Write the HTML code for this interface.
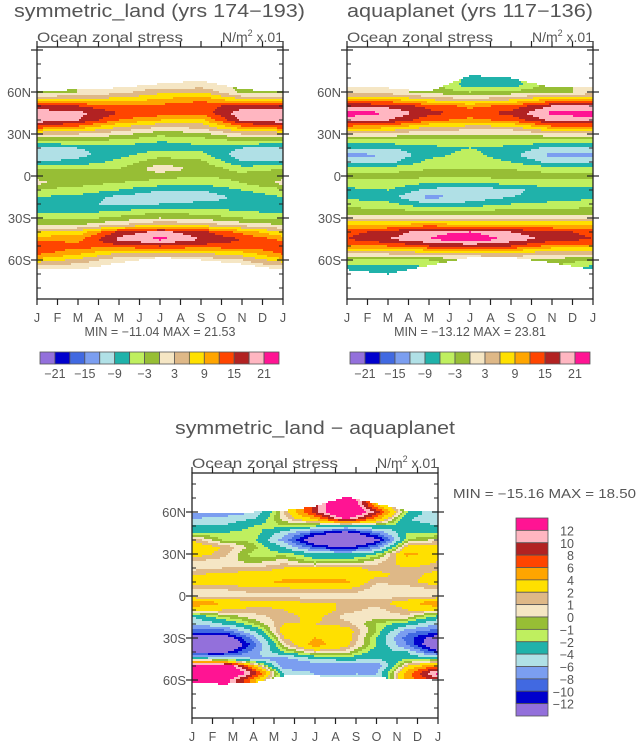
<!DOCTYPE html>
<html><head><meta charset="utf-8"><style>
html,body{margin:0;padding:0;background:#fff;}
svg{display:block;font-family:"Liberation Sans",sans-serif;}
text{fill:#555;}
</style></head><body>
<svg id="svg" width="636" height="743" viewBox="0 0 636 743" xmlns="http://www.w3.org/2000/svg">
<text x="14" y="17" font-size="18" textLength="291" lengthAdjust="spacingAndGlyphs">symmetric_land (yrs 174−193)</text>
<text x="347" y="17" font-size="18" textLength="246" lengthAdjust="spacingAndGlyphs">aquaplanet (yrs 117−136)</text>
<text x="175" y="434" font-size="18" textLength="280" lengthAdjust="spacingAndGlyphs">symmetric_land − aquaplanet</text>
<text x="453" y="498" font-size="12.5" textLength="183" lengthAdjust="spacingAndGlyphs">MIN = −15.16 MAX =  18.50</text>
<g id="layer"></g>
</svg>
<script>
// ---- data (values in N/m^2 x .01) ----
const lats = [70,65,60,55,50,45,40,35,30,25,20,15,10,5,0,-5,-10,-15,-20,-25,-30,-35,-40,-45,-50,-55,-60,-65,-70];
const monthLabels = ["J","F","M","A","M","J","J","A","S","O","N","D","J"];
const latTickLabels = ["60N","30N","0","30S","60S"];
const latTickValues = [60,30,0,-30,-60];
const topLevels = [-21,-18,-15,-12,-9,-6,-3,0,3,6,9,12,15,18,21];
const topLevelLabels = ["−21","−15","−9","−3","3","9","15","21"];
const diffLevels = [-12,-10,-8,-6,-4,-2,-1,0,1,2,4,6,8,10,12];
const diffLevelLabels = ["−12","−10","−8","−6","−4","−2","−1","0","1","2","4","6","8","10","12"];
const palette = ["#9370db","#0000cd","#4169e1","#7b9ef0","#b0e0e6","#20b2aa","#bfef5f","#97be35","#f5e6c4","#deb887","#ffe000","#ffa500","#ff4500","#b22222","#ffb6c1","#ff1493"];

const symMonths = [0,2,4,6,8,10,12];
const symTop = [60,62,63,66,68,62,60];
const symBot = [-67,-67,-62,-58,-60,-63,-67];
const symJan = [0,0,-2,6,16,20,20,14,3,-4,-10,-11,-9,-3,-1,1,-4,-6,-8,-7,-4,0,6,11,14,13,8,2,0];
const symMar = [0,0,0,6,15,19,18,11,3,-3,-9,-10,-8,-3,-2,-2,-4,-7,-8,-7,-4,0,7,11,13,10,5,1,0];
const symMay = [2,2,2,7,12,15,12,6,1,-4,-8,-7,-5,-3,-2,-3,-6,-10,-10,-6,-2,3,16,19,14,6,1,0,0];
const symJul = [0,0,5,9,13,14,9,3,-2,-6,-7,-4,-1,2,-2,-4,-9,-11,-9,-4,0,6,19,22,15,6,0,0,0];
const symSep = [1,1,6,11,14,13,8,4,-1,-5,-7,-5,-2,-1,-3,-5,-9,-11,-8,-5,-1,5,16,18,14,6,1,0,0];
const symNov = [-1,-1,-1,6,16,20,19,11,3,-3,-9,-11,-9,-4,-2,-3,-6,-8,-8,-6,-3,2,11,15,14,8,3,0,0];

const aquaMonths = [0,2,4,6,8,10,12];
const aquaTop = [64,63,60,72,70,63,64];
const aquaBot = [-67,-70,-64,-58,-58,-62,-67];
const aquaJan = [1,1,1,9,18,23,19,11,2,-4,-9,-13,-10,-4,-2,-4,-7,-7,-4,-2,2,9,14,15,11,4,-3,-7,-7];
const aquaMar = [1,1,1,9,17,21,18,10,2,-4,-9,-12,-10,-4,-2,-4,-6,-8,-5,-2,2,9,16,18,12,4,-3,-8,-8];
const aquaMay = [-1,-1,-1,5,14,16,13,6,0,-4,-7,-7,-5,-3,-2,-6,-10,-13,-9,-3,2,11,20,21,15,5,-3,-6,-6];
const aquaJul = [-7,-8,-3,3,11,14,11,5,0,-4,-6,-5,-4,-3,-2,-6,-11,-11,-8,-3,2,9,21,24,16,5,0,0,0];
const aquaSep = [-7,-8,-2,5,13,16,13,5,0,-4,-7,-8,-6,-3,-2,-5,-10,-9,-6,-2,2,9,18,20,15,6,0,0,0];
const aquaNov = [-1,-1,-1,9,18,22,19,11,2,-4,-10,-13,-10,-4,-2,-4,-7,-8,-5,-2,2,9,16,17,11,4,-1,-3,-3];

const diffMonths = [0,1.5,3,4.5,6,7.5,9,10.5,12];
const diffTop = [60,60,60,61,64,71,66,61,60];
const diffBot = [-62,-63,-62,-57,-57,-58,-58,-60,-60];
const diffM0 = [-8,-8,-8,-6,-4,-2,2,3,3,1,0.5,2,3,1,0.5,6,2,-4,-6,-9,-15,-18,-13,-2,16,18,14,14,14];
const diffM1 = [-8,-8,-8,-5,-4,-2,-1,2,1.5,0.5,1,2.5,3,1,0.5,4,2,-1,-4,-9,-15,-18,-13,-3,16,18,14,14,14];
const diffM2 = [-6,-6,-6,-4,-2,-1,-1.5,-0.5,-1.5,-0.5,1,3,3,1.5,0.5,2.5,1.5,0.5,-1,-4,-7,-9,-7,-6,4,10,5,5,5];
const diffM3 = [1,1,1,0.5,-1,-5,-7,-4,-1.5,0.5,2,3,4.5,1.5,0.5,2.5,2,1.5,2,3,2,0.5,-2,-7,-8,-4,-4,-4,-4];
const diffM4 = [9,9,9,4,-2,-10,-15,-10,-3,-1.5,2,3,4.5,2,0.5,2,3,2.5,2,3,4,5,1,-4,-8,-6,-6,-6,-6];
const diffM5 = [16,18,18,12,-3,-14,-18,-13,-4,-1.5,2.5,3,4.5,2,0.5,2,1.5,0.5,1.5,3,3,2.5,0.5,-3,-8,-6,-6,-6,-6];
const diffM6 = [3,4,9,5,-2,-8,-13,-8,-2,0.5,1.5,2.5,1,0.5,0.5,1.5,0.5,0.5,-1,-1,-2,-2,-3,-4,-8,-6,-6,-6,-6];
const diffM7 = [-2,-2,-2,-4,-3,-2,-1,2.5,4.5,3,2,1.5,1.5,0.5,0.5,3,2,0.5,-3,-7,-9,-8,-4,-2,2,5,5,5,5];
const diffM8 = [-6,-6,-6,-5,-4,-2,0.5,3,3,2,1.5,2.5,3,1,0.5,6,2,-3,-6,-9,-14,-16,-11,-2,6,13,9,9,9];

const symGrid = [symJan,symMar,symMay,symJul,symSep,symNov,symJan];
const aquaGrid = [aquaJan,aquaMar,aquaMay,aquaJul,aquaSep,aquaNov,aquaJan];
const diffGrid = [diffM0,diffM1,diffM2,diffM3,diffM4,diffM5,diffM6,diffM7,diffM8];

const NS="http://www.w3.org/2000/svg";
const layer=document.getElementById('layer');
function mk(tag,attrs,parent){const e=document.createElementNS(NS,tag);for(const k in attrs)e.setAttribute(k,attrs[k]);(parent||layer).appendChild(e);return e;}
function interp1(xs,ys,x){for(let i=0;i<xs.length-1;i++){if(x<=xs[i+1]){const t=(x-xs[i])/(xs[i+1]-xs[i]);return ys[i]+(ys[i+1]-ys[i])*t;}}return ys[ys.length-1];}
function field(months,grid,m,lat){
  let mi=0;while(mi<months.length-2&&m>months[mi+1])mi++;
  const tm=(m-months[mi])/(months[mi+1]-months[mi]);
  let li=0;while(li<lats.length-2&&lat<lats[li+1])li++;
  const tl=(lats[li]-lat)/(lats[li]-lats[li+1]);
  const a=grid[mi][li],b=grid[mi][li+1],c=grid[mi+1][li],d=grid[mi+1][li+1];
  return (a*(1-tl)+b*tl)*(1-tm)+(c*(1-tl)+d*tl)*tm;
}
function levelIndex(levels,v){let k=0;while(k<levels.length&&v>=levels[k])k++;return k;}

function panel(p){
  const g=mk('g',{});
  
  
  const xs=m=>p.x0+(p.x1-p.x0)*m/12;
  const ys=lat=>p.yeq-lat*1.4;
  const step=2;
  const fg=mk('g',{},g);
  
  
  for(let y=p.y0;y<p.y1;y+=step){
    const lat=(p.yeq-(y+step/2))/1.4;
    let runStart=null,runCol=-1;
    const flush=(xe)=>{if(runCol>=0&&runStart!==null){const r=mk('rect',{x:runStart,y:y,width:xe-runStart,height:step,fill:palette[runCol]},fg);}};
    for(let x=p.x0;x<p.x1;x+=step){
      const m=(x+step/2-p.x0)/(p.x1-p.x0)*12;
      const top=interp1(p.months,p.top,m),bot=interp1(p.months,p.bot,m);
      let col=-1;
      if(lat<=top&&lat>=bot){col=levelIndex(p.levels,field(p.months,p.grid,m,lat));}
      if(col!==runCol){flush(x);runStart=x;runCol=col;}
    }
    flush(p.x1);
  }
  const fr=mk('rect',{x:p.x0,y:p.y0,width:p.x1-p.x0,height:p.y1-p.y0,fill:'none',stroke:'#222','stroke-width':1.3},g);
  
  
  for(let i=0;i<=12;i++){
    const x=xs(i);
    mk('line',{x1:x,y1:p.y1,x2:x,y2:p.y1+6,stroke:'#222','stroke-width':1.2},g);
    mk('line',{x1:x,y1:p.y0,x2:x,y2:p.y0-6,stroke:'#222','stroke-width':1.2},g);
    const t=mk('text',{x:x,y:p.y1+23,'font-size':12.5,'text-anchor':'middle'},g);
    t.textContent=monthLabels[i];
    
    
  }
  for(let lat=-80;lat<=90;lat+=10){
    const y=ys(lat);if(y<p.y0+1||y>p.y1-1)continue;
    if(lat%30===0){
      mk('line',{x1:p.x0-6,y1:y,x2:p.x0+6,y2:y,stroke:'#222','stroke-width':1.2},g);
      mk('line',{x1:p.x1-6,y1:y,x2:p.x1+6,y2:y,stroke:'#222','stroke-width':1.2},g);
    }else{
      mk('line',{x1:p.x0,y1:y,x2:p.x0+4,y2:y,stroke:'#222','stroke-width':1},g);
      mk('line',{x1:p.x1-4,y1:y,x2:p.x1,y2:y,stroke:'#222','stroke-width':1},g);
    }
  }
  for(let i=0;i<latTickValues.length;i++){
    const t=mk('text',{x:p.x0-6,y:ys(latTickValues[i])+5,'font-size':13,'text-anchor':'end'},g);
    t.textContent=latTickLabels[i];
    
    
  }
  const s1=mk('text',{x:p.x0,y:p.y0-5,'font-size':14,textLength:146,lengthAdjust:'spacingAndGlyphs'},g);
  s1.textContent='Ocean zonal stress';
  
  
  const s2=mk('text',{x:p.x1,y:p.y0-5,'font-size':14,'text-anchor':'end'},g);
  s2.innerHTML='N/m<tspan font-size="9" dy="-6">2</tspan><tspan dy="6"> x.01</tspan>';
  
  
  if(p.minmax){
    const mm=mk('text',{x:(p.x0+p.x1)/2,y:p.y1+37,'font-size':12.5,'text-anchor':'middle'},g);
    mm.textContent=p.minmax;
    
    
  }
}
function hbar(x0,x1,y0,y1,name){
  const g=mk('g',{});
  
  
  const w=(x1-x0)/palette.length;
  for(let i=0;i<palette.length;i++){
    const r=mk('rect',{x:x0+i*w,y:y0,width:w,height:y1-y0,fill:palette[i],stroke:'#555','stroke-width':0.8},g);
    
    
  }
  for(let j=0;j<topLevelLabels.length;j++){
    const t=mk('text',{x:x0+(1+2*j)*w,y:y1+14,'font-size':12.5,'text-anchor':'middle'},g);
    t.textContent=topLevelLabels[j];
    
    
  }
}
function vbar(x0,x1,y0,y1,name){
  const g=mk('g',{});
  
  
  const h=(y1-y0)/palette.length;
  for(let i=0;i<palette.length;i++){
    const r=mk('rect',{x:x0,y:y0+i*h,width:x1-x0,height:h,fill:palette[palette.length-1-i],stroke:'#555','stroke-width':0.8},g);
    
    
  }
  for(let j=0;j<diffLevelLabels.length;j++){
    const t=mk('text',{x:574,y:y0+(j+1)*h+5,'font-size':12.5,'text-anchor':'end'},g);
    t.textContent=diffLevelLabels[diffLevelLabels.length-1-j];
    
    
  }
}
panel({name:'symmetric-land-panel',x0:37,x1:283,y0:47,y1:299,yeq:176,months:symMonths,grid:symGrid,top:symTop,bot:symBot,levels:topLevels,minmax:'MIN = −11.04 MAX =  21.53'});
panel({name:'aquaplanet-panel',x0:347,x1:593,y0:47,y1:299,yeq:176,months:aquaMonths,grid:aquaGrid,top:aquaTop,bot:aquaBot,levels:topLevels,minmax:'MIN = −13.12 MAX =  23.81'});
panel({name:'difference-panel',x0:192,x1:438,y0:473,y1:718,yeq:596,months:diffMonths,grid:diffGrid,top:diffTop,bot:diffBot,levels:diffLevels,minmax:null});
hbar(40,279,352,364,'colorbar-symmetric-land');
hbar(350,590,352,364,'colorbar-aquaplanet');
vbar(516,548,518,716,'colorbar-difference');
</script>
</body></html>
